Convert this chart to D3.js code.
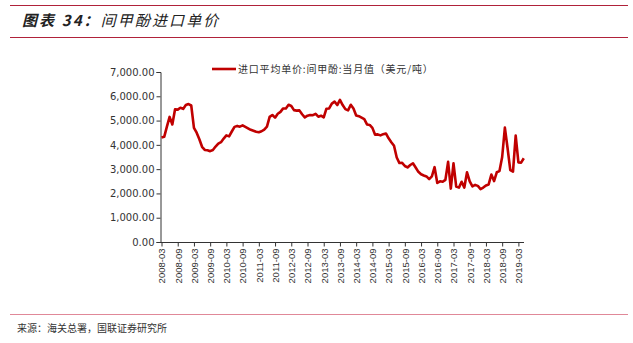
<!DOCTYPE html>
<html><head><meta charset="utf-8">
<script src="https://cdn.jsdelivr.net/npm/d3@7"></script>
<style>body{margin:0;background:#fff}svg{display:block}</style>
</head><body>
<svg id="c" width="633" height="343"></svg>
<script>
const startYear = 2008, startMonth = 3;
const values = [4300,4330,4750,5150,4840,5460,5450,5530,5480,5640,5680,5620,4700,4500,4230,3920,3790,3780,3740,3790,
3930,4050,4110,4260,4390,4350,4550,4740,4780,4750,4800,4740,4680,4620,4580,4540,4520,4560,4630,4750,
5150,5230,5120,5280,5360,5500,5500,5650,5600,5430,5410,5420,5260,5130,5200,5230,5220,5280,5160,5200,
5130,5490,5500,5700,5780,5640,5850,5640,5470,5420,5650,5500,5210,5180,5120,5060,4840,4820,4700,4420,
4430,4390,4440,4470,4270,4110,3960,3480,3250,3260,3130,3070,3170,3240,3070,2890,2790,2740,2700,2590,
2700,3080,2430,2500,2480,2560,3300,2200,3240,2280,2240,2480,2240,2870,2500,2290,2350,2310,2180,2240,
2330,2370,2780,2510,2870,2920,3500,4710,3860,2960,2900,4380,3280,3270,3450];
const months = values.map((v,i)=>{const m=startMonth-1+i;const y=startYear+Math.floor(m/12);const mm=m%12+1;return y+"-"+String(mm).padStart(2,"0");});
const yTicks = [0,1000,2000,3000,4000,5000,6000,7000];
const xTickLabels = months.filter((m,i)=>i%6===0);
const seriesName = "进口平均单价:间甲酚:当月值（美元/吨）";
const title = "间甲酚进口单价";
const source = "来源：海关总署，国联证券研究所";

const svg = d3.select("#c");
// header
svg.append("line").attr("x1",10).attr("x2",628).attr("y1",5.5).attr("y2",5.5).attr("stroke","#b0223a").attr("stroke-width",1.2);
svg.append("line").attr("x1",10).attr("x2",628).attr("y1",37.5).attr("y2",37.5).attr("stroke","#b0223a").attr("stroke-width",1.2);
const t = svg.append("text").attr("x",22).attr("y",26).attr("font-family","'Noto Sans CJK SC',sans-serif").attr("font-size",15).attr("font-style","italic").attr("fill","#222").attr("letter-spacing",2.1);
t.append("tspan").attr("font-weight","bold").text("图表 34：");
t.append("tspan").text(title);
// footer
svg.append("line").attr("x1",10).attr("x2",628).attr("y1",314.5).attr("y2",314.5).attr("stroke","#e08898").attr("stroke-width",1.2);
svg.append("text").attr("x",17).attr("y",332).attr("font-family","'Noto Sans CJK SC',serif").attr("font-size",10).attr("fill","#333").text(source);

const x = d3.scalePoint().domain(months).range([161.5,523.8]);
const y = d3.scaleLinear().domain([0,7000]).range([242,72]);

const yAxis = svg.append("g").attr("transform","translate(160.5,0)")
  .call(d3.axisLeft(y).tickValues(yTicks).tickSize(4).tickFormat(d3.format(",.2f")));
yAxis.select(".domain").attr("stroke","#333");
yAxis.selectAll(".tick line").attr("stroke","#333");
yAxis.selectAll("text").attr("font-family","'DejaVu Sans',sans-serif").attr("font-size",10).attr("fill","#333").attr("x",-6);

const xAxis = svg.append("g").attr("transform","translate(0,242.5)")
  .call(d3.axisBottom(x).tickValues(xTickLabels).tickSize(4).tickSizeOuter(0));
xAxis.select(".domain").attr("stroke","#333").attr("d","M160,0H524");
xAxis.selectAll(".tick line").attr("stroke","#333");
xAxis.selectAll("text").attr("font-family","'Liberation Sans',Arial,sans-serif").attr("font-size",9.5).attr("fill","#333")
  .attr("transform","rotate(-90)").attr("text-anchor","end").attr("x",-6).attr("y",0).attr("dy","0.35em");

svg.append("path").datum(values)
  .attr("d",d3.line().x((d,i)=>x(months[i])).y(d=>y(d)))
  .attr("fill","none").attr("stroke","#c00000").attr("stroke-width",2.6).attr("stroke-linejoin","round");

// legend
svg.append("line").attr("x1",212).attr("x2",236).attr("y1",69).attr("y2",69).attr("stroke","#c00000").attr("stroke-width",2.6);
svg.append("text").attr("x",238).attr("y",72.5).attr("font-family","'Noto Sans CJK SC',sans-serif").attr("font-size",10).attr("fill","#333").attr("letter-spacing",0.8).text(seriesName);
</script>
</body></html>
